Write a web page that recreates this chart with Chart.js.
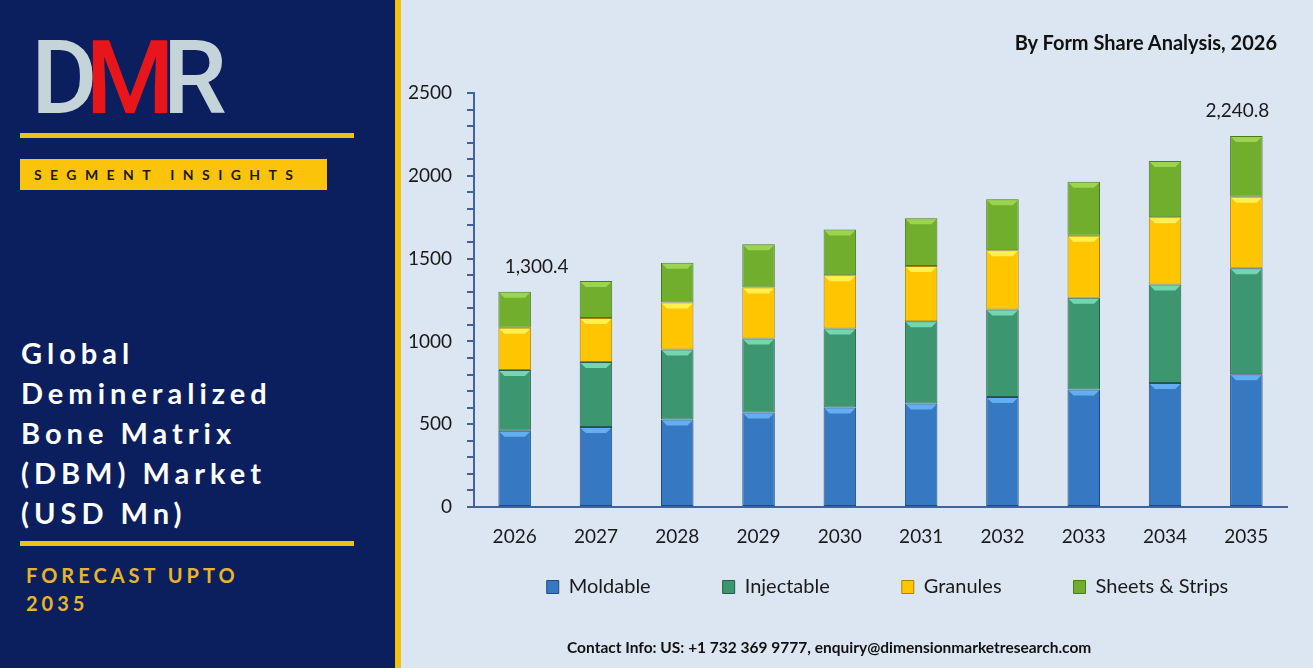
<!DOCTYPE html>
<html>
<head>
<meta charset="utf-8">
<script src="https://cdn.jsdelivr.net/npm/chart.js@4.4.1/dist/chart.umd.min.js"></script>
<style>
html, body { margin: 0; padding: 0; width: 1313px; height: 668px; overflow: hidden; background: #dce6f2; font-family: Lato, sans-serif; }
#side { position: absolute; left: 0; top: 0; width: 395px; height: 668px; background: #0b1f5e; }
#stripe { position: absolute; left: 395px; top: 0; width: 6px; height: 668px; background: #f2c00f; }
#logo { position: absolute; left: 31px; top: 27px; font-family: Roboto, sans-serif; font-weight: 500; font-size: 102px; line-height: 1; letter-spacing: -12px; }
#logo .g { color: #c5d4d9; }
#logo .r { color: #e8161b; }
.hline { position: absolute; left: 20px; width: 334px; height: 5px; background: #f2c00f; }
#seg { position: absolute; left: 20px; top: 159px; width: 307px; height: 31px; background: #fcc30b; color: #1b1b1b; font-weight: 700; font-size: 14px; line-height: 31px; letter-spacing: 8.4px; padding-left: 14px; box-sizing: border-box; white-space: nowrap; }
#mtitle { position: absolute; left: 21px; top: 333px; color: #ffffff; font-weight: 700; font-size: 29px; line-height: 40px; letter-spacing: 5px; }
#fc { position: absolute; left: 26px; top: 561px; color: #e8b42a; font-weight: 700; font-size: 20px; line-height: 28px; letter-spacing: 4px; }
#ctitle { position: absolute; right: 36px; top: 30px; font-weight: 700; font-size: 20px; color: #111; }
#contact { position: absolute; left: 567px; top: 638px; font-weight: 700; font-size: 15.5px; color: #111; }
#chartBox { position: absolute; left: 400px; top: 0; width: 913px; height: 668px; }
</style>
</head>
<body>
<div id="side"></div>
<div id="stripe"></div>
<div id="logo"><span class="g">D</span><span class="r">M</span><span class="g">R</span></div>
<div class="hline" style="top:133px"></div>
<div id="seg">SEGMENT INSIGHTS</div>
<div id="mtitle">Global<br>Demineralized<br>Bone Matrix<br>(DBM) Market<br>(USD Mn)</div>
<div class="hline" style="top:541px"></div>
<div id="fc">FORECAST UPTO<br>2035</div>
<div id="chartBox"><canvas id="chart"></canvas></div>
<div id="ctitle">By Form Share Analysis, 2026</div>
<div id="contact">Contact Info: US: +1 732 369 9777, enquiry@dimensionmarketresearch.com</div>
<script>
var years = ['2026', '2027', '2028', '2029', '2030', '2031', '2032', '2033', '2034', '2035'];
var moldable = [460, 483, 528, 570, 601, 625, 665, 709, 749, 802];
var injectable = [367, 393, 423, 448, 477, 497, 528, 554, 595, 639];
var granules = [255, 266, 284, 308, 322, 333, 358, 375, 405, 432];
var sheets = [218.4, 222, 240, 261, 276, 288, 307, 326, 340, 367.8];
var labelled = [0, 9];

Chart.defaults.font.family = 'Lato';
Chart.defaults.font.size = 19;
Chart.defaults.color = '#1a1a1a';

var axisColor = '#41639c';

// light bevel strip at the top of each segment
var bevel = {
    id: 'bevel',
    afterDatasetsDraw: function(chart) {
        var ctx = chart.ctx;
        chart.data.datasets.forEach(function(ds, i) {
            chart.getDatasetMeta(i).data.forEach(function(bar) {
                var half = bar.width / 2;
                ctx.save();
                ctx.fillStyle = ds.topColor;
                ctx.beginPath();
                ctx.moveTo(bar.x - half + 1, bar.y + 1);
                ctx.lineTo(bar.x + half - 1, bar.y + 1);
                ctx.lineTo(bar.x + half - 6, bar.y + 6);
                ctx.lineTo(bar.x - half + 6, bar.y + 6);
                ctx.closePath();
                ctx.fill();
                ctx.restore();
            });
        });
    }
};

var totals = {
    id: 'totals',
    afterDatasetsDraw: function(chart) {
        var ctx = chart.ctx;
        var last = chart.getDatasetMeta(chart.data.datasets.length - 1);
        var dx = [22, -9];
        labelled.forEach(function(idx, k) {
            var sum = moldable[idx] + injectable[idx] + granules[idx] + sheets[idx];
            var txt = sum.toLocaleString('en-US', { minimumFractionDigits: 1, maximumFractionDigits: 1 });
            var bar = last.data[idx];
            ctx.save();
            ctx.font = '19px Lato';
            ctx.fillStyle = '#1a1a1a';
            ctx.textAlign = 'center';
            ctx.textBaseline = 'middle';
            ctx.fillText(txt, bar.x + dx[k], bar.y - 25);
            ctx.restore();
        });
    }
};

var legendShift = {
    id: 'legendShift',
    afterLayout: function(chart) {
        var lg = chart.legend;
        lg.left += 44; lg.right += 44;
        lg.top -= 52; lg.bottom -= 52;
    }
};

var datasets = [
    { label: 'Moldable', data: moldable, backgroundColor: '#3778c2', borderColor: '#1d4b80', topColor: '#62aef0' },
    { label: 'Injectable', data: injectable, backgroundColor: '#3c966f', borderColor: '#235d45', topColor: '#74d6ae' },
    { label: 'Granules', data: granules, backgroundColor: '#ffc600', borderColor: '#a98400', topColor: '#fff04d' },
    { label: 'Sheets & Strips', data: sheets, backgroundColor: '#72ae2e', borderColor: '#4a7a19', topColor: '#9bd450' }
];
datasets.forEach(function(d) {
    d.borderWidth = 1;
    d.borderSkipped = false;
    d.barPercentage = 0.4;
    d.categoryPercentage = 1;
});

var config = {
    type: 'bar',
    data: { labels: years, datasets: datasets },
    options: {
        responsive: true,
        maintainAspectRatio: false,
        animation: false,
        layout: { padding: { top: 93, right: 26, bottom: 9, left: 0 } },
        plugins: {
            legend: {
                position: 'bottom',
                labels: { boxWidth: 12, boxHeight: 13, padding: 72, font: { size: 20 } }
            },
            tooltip: { enabled: false }
        },
        scales: {
            x: {
                stacked: true,
                afterFit: function(s) { s.height = 50; },
                grid: { display: false, drawTicks: false },
                border: { color: axisColor, width: 2 },
                ticks: { padding: 18 }
            },
            y: {
                stacked: true,
                min: 0,
                max: 2500,
                afterFit: function(s) { s.width = 74; },
                grid: { drawOnChartArea: false, drawTicks: true, tickLength: 7, color: axisColor, lineWidth: 2 },
                border: { color: axisColor, width: 2 },
                ticks: {
                    stepSize: 100,
                    autoSkip: false,
                    padding: 15,
                    callback: function(v) { return v % 500 === 0 ? v : ''; }
                }
            }
        }
    },
    plugins: [bevel, totals, legendShift]
};

var myChart = new Chart(document.querySelector('#chart').getContext('2d'), config);
</script>
</body>
</html>
